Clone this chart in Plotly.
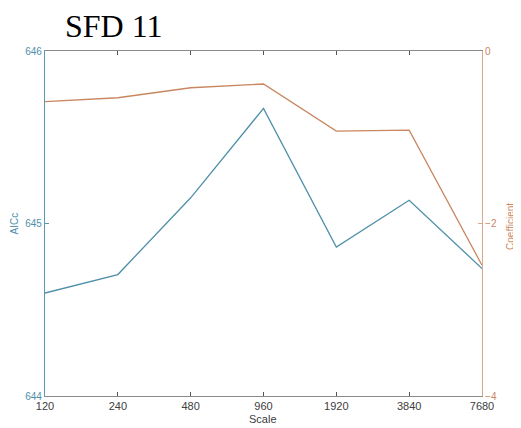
import plotly.graph_objects as go

scales = ["120", "240", "480", "960", "1920", "3840", "7680"]
aicc = [644.597, 644.704, 645.149, 645.667, 644.864, 645.135, 644.739]
coef = [-0.588, -0.542, -0.426, -0.383, -0.929, -0.917, -2.484]
aicc_ticks = [644, 645, 646]
coef_ticks = [-4, -2, 0]

blue = "#4f8fa8"
orange = "#c9875f"
blue_axis = "#5a98b0"
orange_axis = "#d6aa8a"

# page body has an 8px margin, so the figure is drawn 8px smaller and offset
OFF = 8
W, H = 521 - OFF, 428 - OFF
L, R, T, B = 44.5 - OFF, 39, 51 - OFF, 32
pw, ph = W - L - R, H - T - B


def px(xref_px):
    return (xref_px - OFF - L) / pw


def py(yref_px):
    return (T + ph - (yref_px - OFF)) / ph


fig = go.Figure()
fig.add_trace(go.Scatter(x=scales, y=aicc, mode="lines",
                         line=dict(color=blue, width=1.3), yaxis="y", showlegend=False))
fig.add_trace(go.Scatter(x=scales, y=coef, mode="lines",
                         line=dict(color=orange, width=1.3), yaxis="y2", showlegend=False))

fig.update_layout(
    width=W, height=H,
    margin=dict(l=L, r=R, t=T, b=B, autoexpand=False),
    paper_bgcolor="white", plot_bgcolor="white",
    font=dict(family="Liberation Sans, Arial, sans-serif", size=10, color="#404040"),
    xaxis=dict(type="category", range=[0, 6], showgrid=False, zeroline=False, automargin=False,
               showline=True, linecolor="#8a8a8a", linewidth=1, mirror="ticks",
               ticks="inside", ticklen=4, tickcolor="#555555",
               tickfont=dict(size=11, color="#404040")),
    yaxis=dict(range=[644, 646], tickvals=aicc_ticks, showgrid=False, zeroline=False, automargin=False,
               showline=True, linecolor=blue_axis, linewidth=1.2,
               ticks="inside", ticklen=4, tickcolor=blue_axis,
               tickfont=dict(size=10, color=blue)),
    yaxis2=dict(range=[-4, 0], tickvals=coef_ticks, overlaying="y", side="right", automargin=False,
                showgrid=False, zeroline=False,
                showline=True, linecolor=orange_axis, linewidth=1.2,
                ticks="inside", ticklen=4, tickcolor=orange_axis,
                tickfont=dict(size=10, color=orange)),
    annotations=[
        dict(text="SFD 11", xref="paper", yref="paper",
             x=px(114), y=py(26),
             xanchor="center", yanchor="middle", showarrow=False,
             font=dict(family="Liberation Serif, Times New Roman, serif", size=32, color="#000000")),
        dict(text="Scale", xref="paper", yref="paper",
             x=px(263), y=py(419),
             xanchor="center", yanchor="middle", showarrow=False,
             font=dict(size=11, color="#404040")),
        dict(text="AICc", xref="paper", yref="paper", textangle=-90,
             x=px(14), y=py(224),
             xanchor="center", yanchor="middle", showarrow=False,
             font=dict(size=10, color=blue)),
        dict(text="Coefficient", xref="paper", yref="paper", textangle=-90,
             x=px(510), y=py(226),
             xanchor="center", yanchor="middle", showarrow=False,
             font=dict(size=10, color=orange)),
    ],
)

fig.write_html("out.html", config=dict(displayModeBar=False))
